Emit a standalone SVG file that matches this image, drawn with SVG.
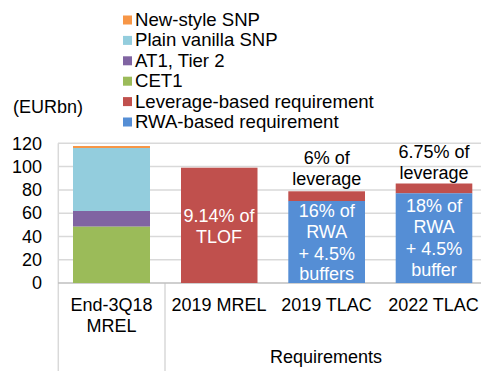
<svg xmlns="http://www.w3.org/2000/svg" width="481" height="371" viewBox="0 0 481 371">
<style>
text{font-family:"Liberation Sans",Arial,sans-serif;font-size:18px;fill:#000}
#legend text{font-size:18.6px}
.w{fill:#fff}
.m{text-anchor:middle}
.e{text-anchor:end}
.grid{stroke:#d9d9d9;stroke-width:1.5;fill:none}
.ax{stroke:#bfbfbf;stroke-width:1.5;fill:none}
</style>
<rect width="481" height="371" fill="#fff"/>
<g id="legend">
<rect x="123" y="15.5" width="9" height="9" fill="#f79646"/>
<text x="135" y="26">New-style SNP</text>
<rect x="123" y="35.9" width="9" height="9" fill="#93cddd"/>
<text x="135" y="46.4">Plain vanilla SNP</text>
<rect x="123" y="56.3" width="9" height="9" fill="#8064a2"/>
<text x="135" y="66.8">AT1, Tier 2</text>
<rect x="123" y="76.7" width="9" height="9" fill="#9bbb59"/>
<text x="135" y="87.2">CET1</text>
<rect x="123" y="97.1" width="9" height="9" fill="#c0504d"/>
<text x="135" y="107.6">Leverage-based requirement</text>
<rect x="123" y="117.5" width="9" height="9" fill="#558ed5"/>
<text x="135" y="128">RWA-based requirement</text>
</g>
<g id="axis">
<text x="13" y="113">(EURbn)</text>
<path class="grid" d="M58 143.3H481M58 166.6H481M58 189.9H481M58 213.2H481M58 236.5H481M58 259.8H481"/>
<path class="grid" d="M58.3 143.3V371M165 283V371"/>
<path class="ax" d="M58 283H481"/>
<text class="e" x="42" y="149.5">120</text>
<text class="e" x="42" y="172.8">100</text>
<text class="e" x="42" y="196.1">80</text>
<text class="e" x="42" y="219.4">60</text>
<text class="e" x="42" y="242.7">40</text>
<text class="e" x="42" y="266">20</text>
<text class="e" x="42" y="289.3">0</text>
<text class="m" x="111.5" y="311">End-3Q18</text>
<text class="m" x="111.5" y="331.7">MREL</text>
<text class="m" x="219" y="311">2019 MREL</text>
<text class="m" x="326.5" y="311">2019 TLAC</text>
<text class="m" x="433.5" y="311">2022 TLAC</text>
<text class="m" x="326" y="363">Requirements</text>
</g>
<g id="bar-end3q18">
<rect x="73" y="146" width="77" height="2.2" fill="#f79646"/>
<rect x="73" y="148" width="77" height="63" fill="#93cddd"/>
<rect x="73" y="211" width="77" height="15.7" fill="#8064a2"/>
<rect x="73" y="226.7" width="77" height="56.3" fill="#9bbb59"/>
</g>
<g id="bar-2019mrel">
<rect x="181" y="167.7" width="76.5" height="115.3" fill="#c0504d"/>
<text class="m w" x="219" y="222">9.14% of</text>
<text class="m w" x="219" y="243">TLOF</text>
</g>
<g id="bar-2019tlac">
<rect x="288.3" y="191.3" width="76.7" height="9.9" fill="#c0504d"/>
<rect x="288.3" y="201" width="76.7" height="82" fill="#558ed5"/>
<text class="m" x="326.7" y="164.3">6% of</text>
<text class="m" x="326.7" y="185.3">leverage</text>
<text class="m w" x="326.7" y="217.3">16% of</text>
<text class="m w" x="326.7" y="238.3">RWA</text>
<text class="m w" x="326.7" y="259.6">+ 4.5%</text>
<text class="m w" x="326.7" y="280.3">buffers</text>
</g>
<g id="bar-2022tlac">
<rect x="395.7" y="183.5" width="76.6" height="9.9" fill="#c0504d"/>
<rect x="395.7" y="193.3" width="76.6" height="89.7" fill="#558ed5"/>
<text class="m" x="434" y="158.3">6.75% of</text>
<text class="m" x="434" y="179">leverage</text>
<text class="m w" x="434" y="211.7">18% of</text>
<text class="m w" x="434" y="233">RWA</text>
<text class="m w" x="434" y="254.6">+ 4.5%</text>
<text class="m w" x="434" y="275.6">buffer</text>
</g>
</svg>
